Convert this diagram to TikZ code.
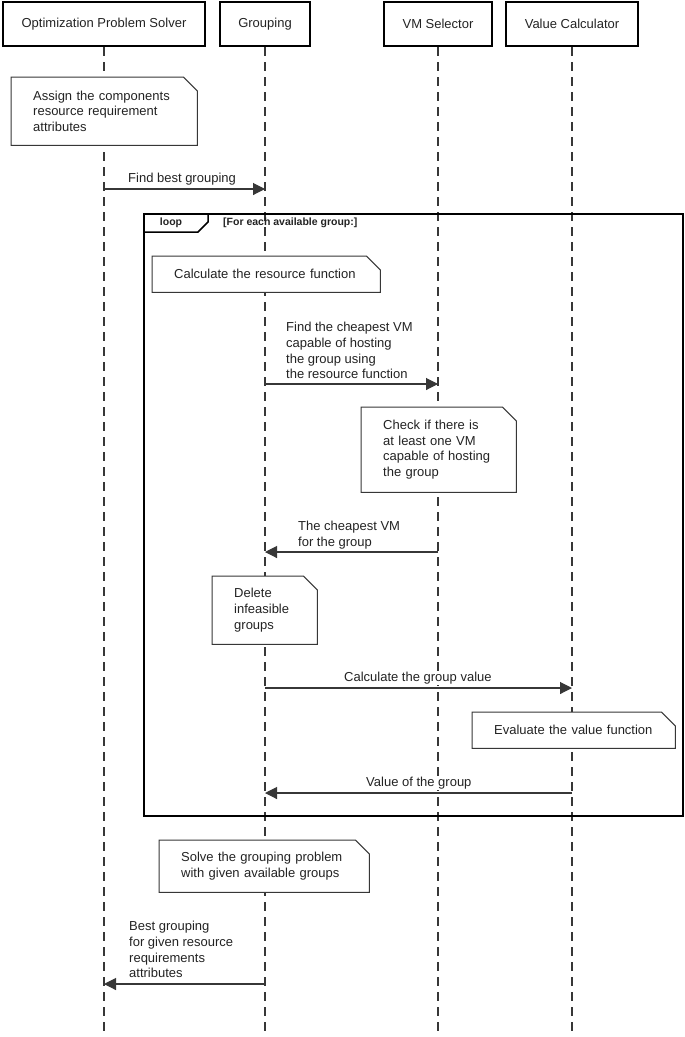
\documentclass[tikz,border=0pt]{standalone}
\usepackage{fontspec}
\setmainfont{Liberation Sans}
\usetikzlibrary{arrows.meta}
\definecolor{inkgray}{RGB}{35, 35, 35}
\definecolor{linegray}{RGB}{55, 55, 55}

\tikzset{
  actor/.style={draw=black, line width=2pt, minimum height=44pt, inner sep=0pt, text=inkgray},
  lifeline/.style={draw=linegray, line width=1.1pt, dash pattern=on 9pt off 6pt},
  msg/.style={draw=linegray, line width=1.1pt, -{Triangle[length=12pt, width=12pt]}},
  msglabel/.style={anchor=north west, inner sep=1pt, align=left, fill=white, text=inkgray},
  note/.style={anchor=north west, inner xsep=22pt, inner ysep=0pt, align=left, fill=white, text=inkgray},
  notefr/.style={draw=linegray, line width=1pt},
  loopbox/.style={draw=black, line width=2pt, anchor=north west, inner sep=0pt},
  looptag/.style={font=\fontsize{10.5}{12}\selectfont\bfseries, inner sep=0pt, text=inkgray}
}

\begin{document}
\begin{tikzpicture}[x=1pt, y=-1pt, every node/.style={font=\fontsize{13}{15.7}\selectfont}]
            \useasboundingbox (0,0) rectangle (685,1037);
            \coordinate (bot) at (0,1037);
            % participants
            \node[actor, minimum width=202pt] (ops) at (104,24) {Optimization Problem Solver};
            \node[actor, minimum width=90pt]  (grp) at (265,24) {Grouping};
            \node[actor, minimum width=108pt] (vms) at (438,24) {VM Selector};
            \node[actor, minimum width=132pt] (vcl) at (572,24) {Value Calculator};
            \foreach \a in {ops,grp,vms,vcl}
                \draw[lifeline] (\a.south) -- (\a |- bot);
            % loop fragment
            \node[loopbox, minimum width=539pt, minimum height=602pt] (loop) at (143,213) {};
            \draw[line width=1.5pt] ([yshift=-19pt]loop.north west) -- ++(55,0) -- ++(10,-10) -- ++(0,-9);
            \node[looptag] (lptag) at (171,223) {loop};
            \node[looptag, anchor=west] (lpguard) at (223,223) {[For each available group:]};
            % notes
            \node[note, text width=142pt, minimum height=68pt] (asgn)  at (11,77)   {Assign the components\\resource requirement\\attributes};
            \node[note, text width=184pt, minimum height=36pt] (calc)  at (152,256) {Calculate the resource function};
            \node[note, text width=111pt, minimum height=85pt] (chk)   at (361,407) {Check if there is\\at least one VM\\capable of hosting\\the group};
            \node[note, text width=61pt,  minimum height=68pt] (del)   at (212,576) {Delete\\infeasible\\groups};
            \node[note, text width=159pt, minimum height=36pt] (eval)  at (472,712) {Evaluate the value function};
            \node[note, text width=166pt, minimum height=52pt] (solve) at (159,840) {Solve the grouping problem\\with given available groups};
            \foreach \n in {asgn,calc,chk,del,eval,solve}
                \draw[notefr] ([xshift=-14pt]\n.north east) -- (\n.north west) -- (\n.south west)
                     -- (\n.south east) -- ([yshift=-14pt]\n.north east) -- cycle;
            % messages
            \coordinate (m1a) at (ops |- 0,189);  \coordinate (m1b) at (grp |- 0,189);
            \coordinate (m2a) at (grp |- 0,384);  \coordinate (m2b) at (vms |- 0,384);
            \coordinate (m3a) at (vms |- 0,552);  \coordinate (m3b) at (grp |- 0,552);
            \coordinate (m4a) at (grp |- 0,688);  \coordinate (m4b) at (vcl |- 0,688);
            \coordinate (m5a) at (vcl |- 0,793);  \coordinate (m5b) at (grp |- 0,793);
            \coordinate (m6a) at (grp |- 0,984);  \coordinate (m6b) at (ops |- 0,984);
            \node[msglabel] (l1) at (127,172) {Find best grouping};
            \node[msglabel] (l2) at (285,321) {Find the cheapest VM\\capable of hosting\\the group using\\the resource function};
            \node[msglabel] (l3) at (297,520) {The cheapest VM\\for the group};
            \node[msglabel] (l4) at (343,671) {Calculate the group value};
            \node[msglabel] (l5) at (365,776) {Value of the group};
            \node[msglabel] (l6) at (128,920) {Best grouping\\for given resource\\requirements\\attributes};
            \draw[msg] (m1a) -- (m1b);
            \draw[msg] (m2a) -- (m2b);
            \draw[msg] (m3a) -- (m3b);
            \draw[msg] (m4a) -- (m4b);
            \draw[msg] (m5a) -- (m5b);
            \draw[msg] (m6a) -- (m6b);
\end{tikzpicture}
\end{document}
